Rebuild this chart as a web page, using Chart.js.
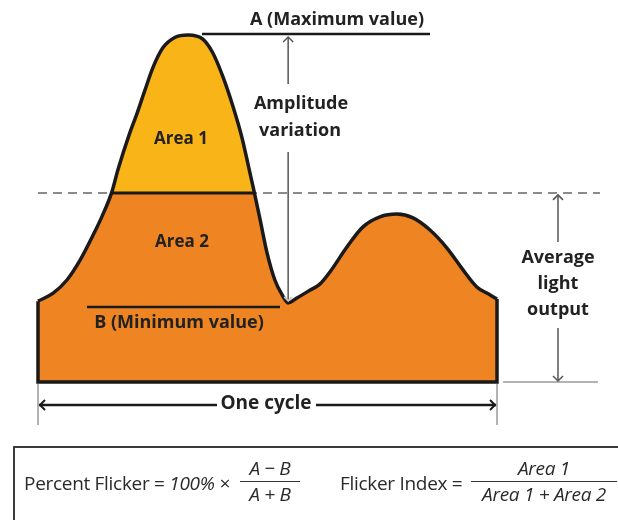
<!DOCTYPE html>
<html>
<head>
<meta charset="utf-8">
<script src="https://cdn.jsdelivr.net/npm/chart.js@4/dist/chart.umd.min.js"></script>
<style>
  html, body { margin: 0; padding: 0; background: #fff; overflow: hidden; }
  #wrap { position: relative; width: 618px; height: 520px; }
  #c { position: absolute; left: 0; top: 0; }
  .box { position: absolute; left: 13px; top: 446px; width: 700px; height: 100px; border: 2px solid #3a3a3a; box-sizing: border-box; }
  .ftxt { position: absolute; font-family: 'Open Sans', sans-serif; font-size: 19px; line-height: 24px; color: #2a2a2a; white-space: nowrap; letter-spacing: -0.3px; }
  .frac { position: absolute; font-family: 'Open Sans', sans-serif; font-size: 19px; font-style: italic; color: #2a2a2a; text-align: center; white-space: nowrap; letter-spacing: -0.3px; }
  .frac .num { display: block; line-height: 23px; border-bottom: 1.5px solid #333; padding-bottom: 1px; }
  .frac .den { display: block; line-height: 23px; padding-top: 1px; }
</style>
</head>
<body>
<div id="wrap">
  <canvas id="c" width="618" height="520"></canvas>
  <div class="box"></div>
  <div class="ftxt" style="left:24px; top:471px;">Percent Flicker = <i>100% ×</i></div>
  <div class="frac" style="left:240px; top:457px; width:60px;"><span class="num">A − B</span><span class="den">A + B</span></div>
  <div class="ftxt" style="left:340px; top:471px;">Flicker Index =</div>
  <div class="frac" style="left:471px; top:457px; width:146px;"><span class="num">Area 1</span><span class="den">Area 1 + Area 2</span></div>
</div>
<script>
// Position within one cycle (% of cycle)
const cyclePhase = [0, 3.3, 6.3, 9.2, 11.8, 13.9, 16.1, 17.4, 20.0, 21.6, 23.3, 25.1, 27.2, 29.8, 32.7,
  35.9, 38.1, 40.3, 42.5, 44.4, 45.8, 47.1, 48.4, 49.9, 51.6, 53.2, 54.5, 56.4, 59.3, 61.4, 63.6,
  67.3, 70.8, 74.5, 78.2, 81.7, 85.4, 89.1, 92.6, 95.6, 98.5, 100];
// Light output (% of maximum A)
const lightOutput = [23.3, 25.6, 29.4, 35.2, 41.8, 47.6, 54.8, 61.1, 71.8, 77.5, 84.1, 90.8, 96.3, 99.3, 100,
  98.8, 94.8, 87.9, 79.3, 70.6, 62.5, 54.8, 46.7, 37.2, 29.4, 25.1, 22.8, 24.2, 26.5, 28.2, 31.7,
  38.9, 44.7, 47.6, 48.4, 47.3, 43.8, 38.6, 32.3, 27.4, 25.1, 23.9];
// Average light output (% of maximum)
const averageOutput = 54.5;

const labelMax = 'A (Maximum value)';
const labelMin = 'B (Minimum value)';
const labelAmplitude = ['Amplitude', 'variation'];
const labelAverage = ['Average', 'light', 'output'];
const labelArea1 = 'Area 1';
const labelArea2 = 'Area 2';
const labelCycle = 'One cycle';

const ORANGE = '#EF8423';
const YELLOW = '#F9B418';
const INK = '#1a1a1a';

const pts = cyclePhase.map((x, i) => ({ x, y: lightOutput[i] }));
const n = pts.length;
const frame = [
  { x: cyclePhase[0], y: lightOutput[0] }, { x: cyclePhase[0], y: 0 },
  { x: cyclePhase[n - 1], y: 0 }, { x: cyclePhase[n - 1], y: lightOutput[n - 1] }
];

const maxVal = Math.max(...lightOutput);
const minVal = Math.min(...lightOutput);
const minIdx = lightOutput.indexOf(minVal);

function crossings(level) {
  const out = [];
  for (let i = 0; i < n - 1; i++) {
    const a = lightOutput[i], b = lightOutput[i + 1];
    if ((a - level) * (b - level) < 0 || (a === level)) {
      const t = (level - a) / (b - a);
      out.push(cyclePhase[i] + t * (cyclePhase[i + 1] - cyclePhase[i]));
    }
  }
  return out;
}

function line(ctx, x1, y1, x2, y2) {
  ctx.beginPath(); ctx.moveTo(x1, y1); ctx.lineTo(x2, y2); ctx.stroke();
}
function head(ctx, x, y, dir, s) {
  ctx.beginPath();
  if (dir === 'up') { ctx.moveTo(x - s, y + s); ctx.lineTo(x, y); ctx.lineTo(x + s, y + s); }
  if (dir === 'down') { ctx.moveTo(x - s, y - s); ctx.lineTo(x, y); ctx.lineTo(x + s, y - s); }
  if (dir === 'left') { ctx.moveTo(x + s, y - s); ctx.lineTo(x, y); ctx.lineTo(x + s, y + s); }
  if (dir === 'right') { ctx.moveTo(x - s, y - s); ctx.lineTo(x, y); ctx.lineTo(x - s, y + s); }
  ctx.stroke();
}
function text(ctx, t, x, y, size) {
  ctx.font = '700 ' + size + 'px "Open Sans", sans-serif';
  ctx.fillStyle = '#222';
  ctx.textAlign = 'center';
  ctx.textBaseline = 'middle';
  ctx.fillText(t, x, y);
}

const annotations = {
  id: 'annotations',
  beforeDatasetsDraw(chart) {
    const { ctx, scales: { x: xs, y: ys } } = chart;
    const yAvg = ys.getPixelForValue(averageOutput);
    ctx.save();
    ctx.strokeStyle = '#666'; ctx.lineWidth = 1.5; ctx.setLineDash([9, 6]);
    line(ctx, xs.getPixelForValue(0), yAvg, 600, yAvg);
    ctx.restore();
  },
  afterDatasetsDraw(chart) {
    const { ctx, scales: { x: xs, y: ys } } = chart;
    const x0 = xs.getPixelForValue(0), x1 = xs.getPixelForValue(100);
    const yBase = ys.getPixelForValue(0);
    const yMax = ys.getPixelForValue(maxVal);
    const yMin = ys.getPixelForValue(minVal);
    const yAvg = ys.getPixelForValue(averageOutput);
    const xMin = xs.getPixelForValue(cyclePhase[minIdx]);
    ctx.save();
    ctx.lineCap = 'butt';

    const cr = crossings(averageOutput);
    ctx.strokeStyle = INK; ctx.lineWidth = 3;
    line(ctx, xs.getPixelForValue(cr[0]), yAvg, xs.getPixelForValue(cr[1]), yAvg);

    ctx.lineWidth = 2.5;
    line(ctx, 202, yMax - 1, 430, yMax - 1);
    line(ctx, 87, yMin + 4, 280, yMin + 4);

    ctx.strokeStyle = '#9a9a9a'; ctx.lineWidth = 1.5;
    line(ctx, x0, yBase + 2, x0, 425);
    line(ctx, x1, yBase + 2, x1, 425);
    line(ctx, x1 + 6, yBase, 598, yBase);

    ctx.strokeStyle = '#555'; ctx.lineWidth = 1.5;
    line(ctx, xMin, yMax + 2, xMin, 84);
    line(ctx, xMin, 152, xMin, yMin - 2);
    head(ctx, xMin, yMax + 2, 'up', 5);
    ctx.strokeStyle = '#ccc';
    head(ctx, xMin, yMin - 2, 'down', 4);

    ctx.strokeStyle = '#555';
    const xa = 558;
    line(ctx, xa, yAvg + 2, xa, 242);
    line(ctx, xa, 328, xa, yBase - 1);
    head(ctx, xa, yAvg + 2, 'up', 5);
    head(ctx, xa, yBase - 1, 'down', 5);

    ctx.strokeStyle = INK; ctx.lineWidth = 2.5;
    const yc = 405;
    line(ctx, x0 + 1, yc, 217, yc);
    line(ctx, 316, yc, x1 - 1, yc);
    ctx.lineWidth = 2;
    head(ctx, x0 + 2, yc, 'left', 5);
    head(ctx, x1 - 2, yc, 'right', 5);

    text(ctx, labelMax, 337, 20, 18);
    text(ctx, labelAmplitude[0], 301, 104, 18);
    text(ctx, labelAmplitude[1], 300, 131, 18);
    text(ctx, labelArea1, 181, 139, 17);
    text(ctx, labelArea2, 182, 242, 17);
    text(ctx, labelMin, 179, 323, 18);
    text(ctx, labelAverage[0], 558, 258, 18);
    text(ctx, labelAverage[1], 558, 284, 18);
    text(ctx, labelAverage[2], 558, 310, 18);
    text(ctx, labelCycle, 266, 404, 19);
    ctx.restore();
  }
};

const common = { pointRadius: 0, cubicInterpolationMode: 'monotone', clip: false };

new Chart(document.getElementById('c'), {
  type: 'line',
  data: {
    datasets: [
      { ...common, data: pts, borderWidth: 0, borderColor: 'rgba(0,0,0,0)', backgroundColor: ORANGE, fill: 'origin', order: 3 },
      { ...common, data: pts, borderWidth: 0, borderColor: 'rgba(0,0,0,0)', fill: { target: { value: averageOutput }, above: YELLOW, below: 'rgba(0,0,0,0)' }, order: 2 },
      { ...common, data: pts, borderColor: INK, borderWidth: 3.5, fill: false, order: 1 },
      { data: frame, pointRadius: 0, tension: 0, borderColor: INK, borderWidth: 3.5, fill: false, order: 0, clip: false, borderJoinStyle: 'miter' }
    ]
  },
  options: {
    responsive: false,
    animation: false,
    events: [],
    layout: { padding: { left: 38, right: 121, top: 35, bottom: 138 } },
    scales: {
      x: { type: 'linear', min: 0, max: 100, display: false },
      y: { min: 0, max: 100, display: false }
    },
    plugins: { legend: { display: false }, tooltip: { enabled: false } }
  },
  plugins: [annotations]
});
</script>
</body>
</html>
